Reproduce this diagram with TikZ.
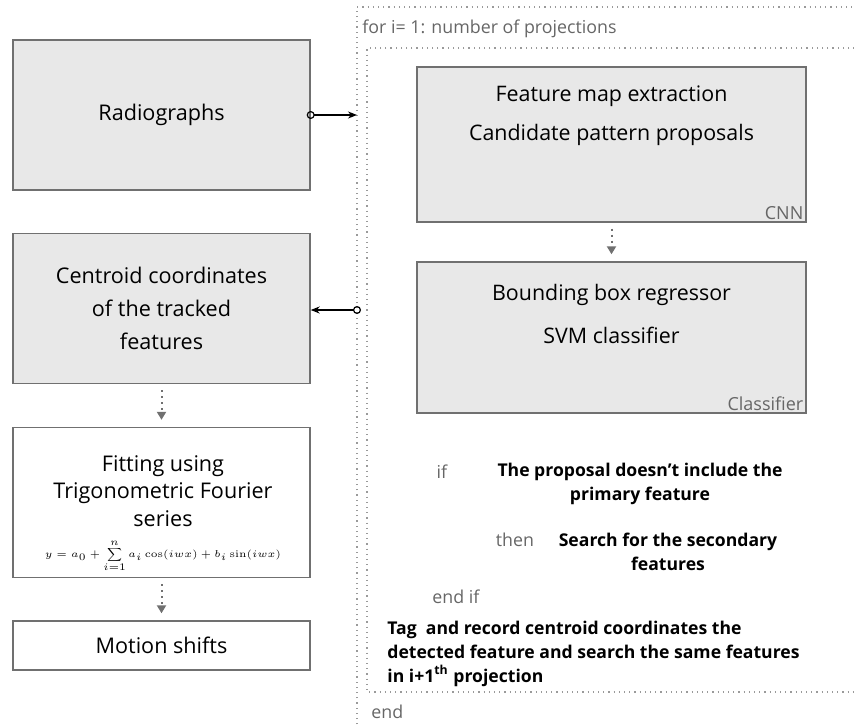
\documentclass[tikz,border=0pt]{standalone}
\usepackage{amsmath}
\usepackage[no-math]{fontspec}
\setmainfont{Open Sans}
\usetikzlibrary{arrows.meta}
\definecolor{boxgray}{HTML}{E8E8E8}
\definecolor{linegray}{HTML}{707070}
\definecolor{textgray}{HTML}{666666}
\definecolor{framegray}{HTML}{9A9A9A}

\begin{document}
\begin{tikzpicture}
  [x=0.5pt,y=-0.5pt,
   stage/.style={draw=linegray,fill=boxgray,line width=0.7pt,minimum width=148.5pt,minimum height=75pt,
     align=center,inner sep=0pt,font=\fontsize{10.8}{16.5}\selectfont},
   netbox/.style={draw=linegray,fill=boxgray,line width=0.7pt,minimum width=194.5pt,inner sep=0pt},
   boxtext/.style={font=\fontsize{10.7}{12}\selectfont,inner sep=0pt},
   tagtext/.style={font=\fontsize{9}{10}\selectfont,text=textgray,anchor=south east,inner sep=1.5pt},
   code/.style={font=\fontsize{8.9}{10}\selectfont,text=textgray,inner sep=0pt},
   cond/.style={font=\fontsize{8.8}{12}\selectfont\bfseries,align=center,inner sep=0pt},
   frame/.style={draw=framegray,dotted,line width=0.6pt},
   link/.style={line width=0.6pt,{Circle[open,length=4pt,width=4pt]}-{Stealth[length=4.5pt,width=3.5pt]}},
   dotlink/.style={draw=linegray,dotted,line width=1pt,-{Triangle[length=4pt,width=4.5pt]},shorten <=3pt,shorten >=3.5pt}]
  \useasboundingbox (0,0) rectangle (854,727);

  % loop frames
  \draw[frame] (357,740) -- (357,7) -- (870,7);
  \draw[frame] (870,48) -- (367,48) -- (367,692) -- (870,692);

  % left column
  \node[stage] (radio) at (161.5,115) {Radiographs};
  \node[stage] (centroid) at (161.5,308.5) {Centroid coordinates\\of the tracked\\features};
  \node[stage,fill=white] (fit) at (161.5,502.5) {};
  \node[align=center,inner sep=0pt,font=\fontsize{10.8}{13.7}\selectfont] (fittext) at (163,491)
    {Fitting using\\Trigonometric Fourier\\series};
  \node[inner sep=0pt,font=\fontsize{4.6}{6}\selectfont] (fiteq) at (163,556)
    {$y=a_0+\displaystyle\sum_{i=1}^{n}a_i\cos(iwx)+b_i\sin(iwx)$};
  \node[stage,fill=white,minimum height=24.5pt] (motion) at (161.5,645.5) {Motion shifts};

  % loop body
  \node[code,anchor=west] (forline) at (362,29) {for i= 1: number of projections};
  \node[netbox,minimum height=77.5pt] (cnn) at (611.5,144.5) {};
  \node[boxtext] (fmap) at (611.5,96) {Feature map extraction};
  \node[boxtext] (cand) at (611.5,135) {Candidate pattern proposals};
  \node[tagtext] (cnnlbl) at (cnn.south east) {CNN};
  \node[netbox,minimum height=75.5pt] (cls) at (611.5,337.5) {};
  \node[boxtext] (bbox) at (611.5,295) {Bounding box regressor};
  \node[boxtext] (svm) at (611.5,335) {SVM classifier};
  \node[tagtext] (clslbl) at (cls.south east) {Classifier};

  \node[code] (iflbl) at (442,472) {if};
  \node[cond] (cond) at (640,484) {The proposal doesn’t include the\\primary feature};
  \node[code] (thenlbl) at (515,540) {then};
  \node[cond] (act) at (668,552) {Search for the secondary\\features};
  \node[code,anchor=west] (endif) at (432,597) {end if};
  \node[cond,align=left,anchor=west] (tag) at (387,654)
    {Tag\ \ and record centroid coordinates the\\detected feature and search the same features\\in i+1\textsuperscript{th} projection};
  \node[code,anchor=west] (endfor) at (371,712) {end};

  \coordinate (loopin) at (357,115);
  \coordinate (loopout) at (357,310);
  \draw[link,shorten <=-2pt] (radio.east) -- (loopin);
  \draw[link,shorten <=-2pt] (loopout) -- (centroid.east |- loopout);

  \foreach \from/\to in {centroid/fit,fit/motion,cnn/cls}
    \draw[dotlink] (\from) -- (\to);
\end{tikzpicture}
\end{document}
